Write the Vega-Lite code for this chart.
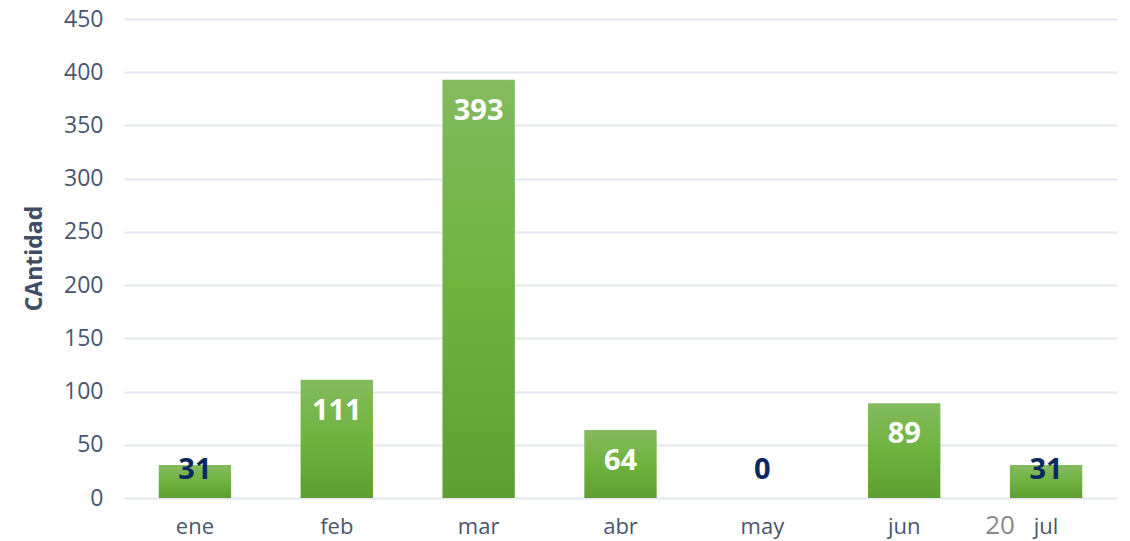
{
  "$schema": "https://vega.github.io/schema/vega-lite/v6.json",
  "width": 993,
  "height": 479,
  "autosize": {"type": "none"},
  "padding": {"left": 124, "top": 19, "right": 13, "bottom": 43},
  "background": "#ffffff",
  "config": {
    "view": {"stroke": null},
    "font": "Open Sans"
  },
  "data": {
    "values": [
      {"mes": "ene", "cantidad": 31},
      {"mes": "feb", "cantidad": 111},
      {"mes": "mar", "cantidad": 393},
      {"mes": "abr", "cantidad": 64},
      {"mes": "may", "cantidad": 0},
      {"mes": "jun", "cantidad": 89},
      {"mes": "jul", "cantidad": 31}
    ]
  },
  "encoding": {
    "x": {
      "field": "mes",
      "type": "nominal",
      "sort": null,
      "scale": {"paddingInner": 0.49, "paddingOuter": 0.245},
      "axis": {
        "title": null,
        "domain": false,
        "ticks": false,
        "labelAngle": 0,
        "labelFont": "Open Sans",
        "labelFontSize": 22,
        "labelColor": "#4a566d",
        "labelPadding": 18
      }
    }
  },
  "layer": [
    {
      "mark": {
        "type": "bar",
        "color": {
          "gradient": "linear",
          "x1": 0, "y1": 0, "x2": 0, "y2": 1,
          "stops": [
            {"offset": 0, "color": "#84ba60"},
            {"offset": 0.5, "color": "#6fb33e"},
            {"offset": 1, "color": "#5f9e32"}
          ]
        }
      },
      "encoding": {
        "y": {
          "field": "cantidad",
          "type": "quantitative",
          "scale": {"domain": [0, 450], "nice": false},
          "axis": {
            "values": [0, 50, 100, 150, 200, 250, 300, 350, 400, 450],
            "title": "CAntidad",
            "titleFont": "Open Sans",
            "titleFontSize": 23,
            "titleFontWeight": "bold",
            "titleColor": "#3f4c64",
            "titleAngle": -90,
            "titleX": -90,
            "titleY": 239,
            "titleAlign": "center",
            "titleBaseline": "middle",
            "domain": false,
            "ticks": false,
            "grid": true,
            "gridColor": "#e3e6ee",
            "gridWidth": 2,
            "labelFont": "Open Sans",
            "labelFontSize": 23,
            "labelColor": "#4a566d",
            "labelPadding": 21
          }
        }
      }
    },
    {
      "transform": [{"filter": "datum.cantidad >= 50"}],
      "mark": {
        "type": "text",
        "font": "Open Sans",
        "fontSize": 29,
        "fontWeight": "bold",
        "color": "#ffffff",
        "baseline": "middle",
        "dy": 31
      },
      "encoding": {
        "y": {"field": "cantidad", "type": "quantitative"},
        "text": {"field": "cantidad", "type": "quantitative"}
      }
    },
    {
      "transform": [{"filter": "datum.cantidad < 50"}],
      "mark": {
        "type": "text",
        "font": "Open Sans",
        "fontSize": 29,
        "fontWeight": "bold",
        "color": "#0b2862",
        "baseline": "middle"
      },
      "encoding": {
        "y": {"datum": 26, "type": "quantitative"},
        "text": {"field": "cantidad", "type": "quantitative"}
      }
    },
    {
      "data": {"values": [{"mes": "jul", "t": "20"}]},
      "mark": {
        "type": "text",
        "font": "Open Sans",
        "fontSize": 26,
        "color": "#8a8a8a",
        "baseline": "middle",
        "dx": -46
      },
      "encoding": {
        "y": {"datum": -26, "type": "quantitative"},
        "text": {"field": "t"}
      }
    }
  ]
}
